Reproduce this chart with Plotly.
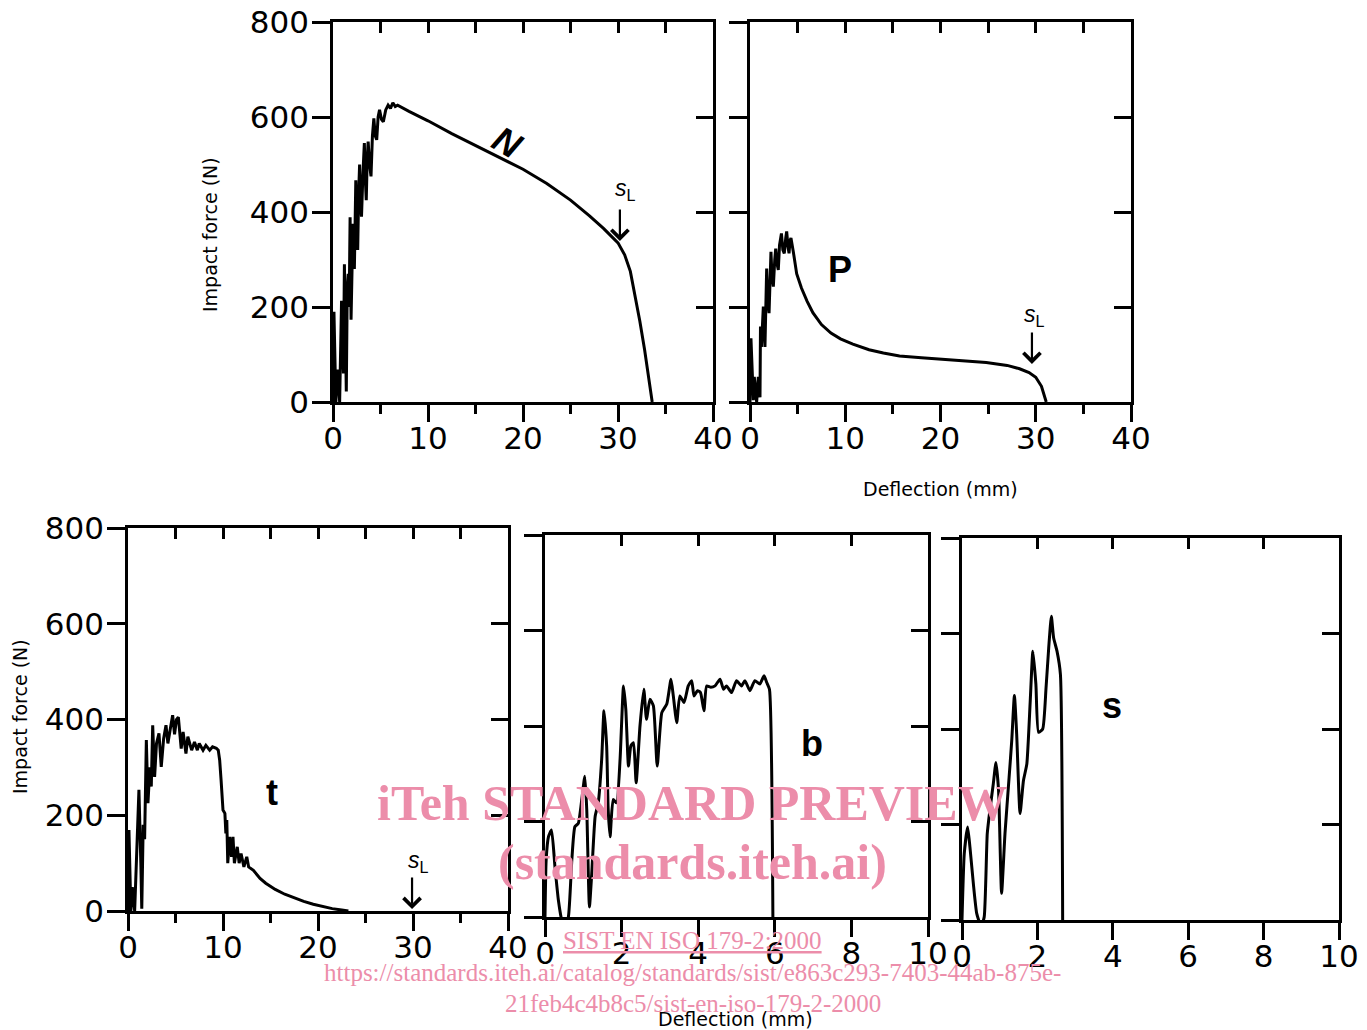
import plotly.graph_objects as go

# ---------------- data ----------------
# Panel N
N_x = [0, 0.1, 0.3, 0.5, 0.7, 0.9, 1.0, 1.1, 1.2, 1.3, 1.4, 1.5, 1.6, 1.7, 1.8, 1.9, 2.0, 2.1, 2.25,
       2.4, 2.5, 2.6, 2.7, 2.8, 2.9, 3.0, 3.15, 3.3, 3.4, 3.5, 3.6, 3.7, 3.85, 4.0, 4.15, 4.3, 4.45,
       4.6, 4.75, 4.9, 5.1, 5.3, 5.55, 5.8, 6.05, 6.3, 6.55, 6.8, 8, 10, 12.5, 15, 17.5, 20, 22.5,
       25, 27, 28.5, 30, 30.7, 31.3, 31.8, 32.3, 32.8, 33.1, 33.35, 33.6]
N_y = [0, 190, 0, 68, 0, 213, 120, 60, 290, 150, 22, 240, 270, 200, 389, 173, 330, 375, 280,
       467, 380, 320, 440, 500, 420, 390, 480, 545, 470, 425, 510, 548, 500, 475, 560, 597, 560,
       552, 600, 615, 595, 590, 615, 625, 618, 630, 622, 625, 612, 592, 565, 540, 515, 490, 460,
       425, 392, 365, 335, 310, 275, 225, 170, 110, 70, 30, 0]

# Panel P
P_x = [0, 0.1, 0.35, 0.45, 0.7, 0.87, 1.05, 1.1, 1.2, 1.3, 1.4, 1.5, 1.57, 1.75, 1.85, 2.0, 2.1,
       2.2, 2.3, 2.45, 2.6, 2.7, 2.85, 2.97, 3.1, 3.3, 3.45, 3.6, 3.75, 3.85, 4.0, 4.1, 4.2, 4.3,
       4.55, 4.9, 5.4, 6.0, 6.6, 7.5, 8.5, 9.5, 10.8, 12.5, 14, 15.7, 18,
       20, 22, 24.8, 27, 28.3, 29.3, 30, 30.6, 31.1]
P_y = [0, 134, 4, 53, 0, 53, 10, 159, 116, 170, 201, 150, 116, 281, 220, 187, 280,
       316, 270, 243, 300, 323, 290, 278, 330, 355, 320, 313, 345, 359, 325, 313, 340, 345,
       316, 270, 240, 212, 188, 163, 145, 133, 122, 110, 103, 97, 93,
       90, 87, 83, 77, 70, 62, 52, 33, 0]

# Panel t
t_x = [0, 0.1, 0.3, 0.45, 0.7, 0.95, 1.15, 1.35, 1.45, 1.6, 1.75, 1.93, 2.1, 2.3, 2.45, 2.6, 2.8,
       3.0, 3.26, 3.5, 3.75, 4.0, 4.2, 4.45, 4.7, 4.9, 5.1, 5.3, 5.45, 5.6, 5.8, 6.1, 6.3, 6.7, 7.0,
       7.3, 7.5, 7.9, 8.2, 8.6, 8.9, 9.3, 9.5, 9.65, 9.8, 10.0, 10.2, 10.3, 10.4, 10.5, 10.7, 10.9,
       11.05, 11.2, 11.5, 11.7, 11.9, 12.2, 12.5, 12.7, 13.2, 13.9, 14.5, 15.5, 16.5, 17.5, 18.5,
       19.5, 20.5, 21.5, 22.5, 23.2]
t_y = [0, 169, 0, 50, 0, 130, 253, 100, 5, 180, 150, 357, 225, 300, 260, 388, 280,
       350, 371, 301, 360, 388, 350, 380, 409, 369, 400, 405, 365, 339, 374, 329, 364, 336, 353,
       336, 350, 336, 346, 336, 343, 340, 336, 315, 273, 211, 204, 162, 190, 100, 155, 113,
       155, 100, 134, 100, 120, 92, 113, 92, 85, 68, 58, 45, 35, 27, 20,
       14, 9, 5, 2, 0]

# Panel b
b_x = [0, 0.03, 0.09, 0.17, 0.26, 0.35, 0.44, 0.52, 0.61, 0.70, 0.78, 0.87, 0.96, 1.04, 1.09, 1.16,
       1.22, 1.31, 1.39, 1.48, 1.54, 1.61, 1.65, 1.70, 1.78, 1.87, 1.96, 2.05, 2.11, 2.18, 2.24, 2.31,
       2.38, 2.48, 2.58, 2.65, 2.74, 2.83, 2.93, 3.05, 3.18, 3.29, 3.35, 3.44, 3.52, 3.63, 3.74, 3.83,
       3.89, 3.98, 4.06, 4.15, 4.22, 4.33, 4.44, 4.57, 4.66, 4.74, 4.87, 5.0, 5.13, 5.22, 5.35, 5.48,
       5.61, 5.72, 5.79, 5.86, 5.95]
b_y = [0, 119, 168, 182, 105, 35, -7, -18, 0, 119, 189, 196, 246, 295, 225, 21,
       91, 211, 239, 330, 432, 358, 225, 168, 246, 239, 330, 484, 435, 316, 358, 365,
       281, 400, 477, 414, 456, 442, 316, 428, 446, 498, 463, 407, 463, 449, 484, 495,
       463, 474, 470, 432, 484, 481, 484, 498, 477, 484, 470, 495, 484, 495, 474, 495,
       488, 505, 491, 477, 0]

# Panel s
s_x = [0, 0.06, 0.15, 0.21, 0.30, 0.39, 0.51, 0.59, 0.67, 0.74, 0.83, 0.90, 0.97, 1.05, 1.14, 1.25,
       1.32, 1.39, 1.45, 1.54, 1.63, 1.72, 1.81, 1.88, 1.96, 2.03, 2.14, 2.23, 2.30, 2.37, 2.43, 2.52,
       2.61, 2.67]
s_y = [0, 139, 195, 153, 77, 14, -14, 7, 181, 230, 285, 330, 271, 56, 181, 299,
       376, 470, 390, 223, 292, 327, 459, 563, 494, 393, 400, 487, 570, 636, 591, 563,
       515, 0]

y_ticks = [0, 200, 400, 600, 800]
x_ticks_wide = [0, 10, 20, 30, 40]
x_ticks_narrow = [0, 2, 4, 6, 8, 10]

series = [
    ("N", N_x, N_y),
    ("P", P_x, P_y),
    ("t", t_x, t_y),
    ("b", b_x, b_y),
    ("s", s_x, s_y),
]

# ---------------- layout ----------------
OFF = 8                      # page body margin
W, H = 1367 - OFF, 1030 - OFF


def px(v):
    return (v - OFF) / W


def py(v):
    return 1 - (v - OFF) / H


# pixel boxes of each panel in the target image: (left, right, top, bottom)
boxes = [(333, 713, 22, 402), (750, 1131, 22, 402), (128, 508, 528, 911),
         (545, 928, 535, 917), (962, 1339, 538, 920)]
xmax = [40, 40, 40, 10, 10]
ylabels = [True, False, True, False, False]

BLACK = "black"
LW = 2.6
TICKFONT = dict(family="DejaVu Sans", size=31, color=BLACK)

fig = go.Figure()
layout = dict(width=W, height=H, margin=dict(l=0, r=0, t=0, b=0, autoexpand=False),
              paper_bgcolor="white", plot_bgcolor="white", showlegend=False)

for i, ((name, xs, ys), box, xm, ylab) in enumerate(zip(series, boxes, xmax, ylabels), start=1):
    l, r, t, b = box
    xd = [px(l), px(r)]
    yd = [py(b), py(t)]
    xk = "xaxis" if i == 1 else f"xaxis{i}"
    yk = "yaxis" if i == 1 else f"yaxis{i}"
    xr = "x" if i == 1 else f"x{i}"
    yr = "y" if i == 1 else f"y{i}"
    j = i + 5
    wide = xm == 40
    common = dict(showgrid=False, zeroline=False, showline=True, linecolor=BLACK, linewidth=LW,
                  tickcolor=BLACK, tickwidth=LW, fixedrange=True, automargin=False)
    xa = dict(common, domain=xd, range=[0, xm], anchor=yr, side="bottom",
              tickmode="array", tickvals=x_ticks_wide if wide else x_ticks_narrow,
              ticks="outside", ticklen=17, tickfont=TICKFONT, ticklabelstandoff=-10,
              ticklabeloverflow="allow")
    if wide:
        xa["minor"] = dict(tickmode="array", tickvals=[5, 15, 25, 35], ticks="outside",
                           ticklen=9, tickwidth=LW, tickcolor=BLACK, showgrid=False)
    layout[xk] = xa
    layout[yk] = dict(common, domain=yd, range=[0, 800], anchor=xr, side="left",
                      tickmode="array", tickvals=y_ticks, ticks="outside", ticklen=18,
                      showticklabels=ylab, tickfont=TICKFONT, ticklabelstandoff=-3,
                      ticklabeloverflow="allow")
    # top & right frame with inward ticks
    layout[f"xaxis{j}"] = dict(common, range=[0, xm], overlaying=xr, anchor=yr, side="top",
                               tickmode="array",
                               tickvals=[5, 10, 15, 20, 25, 30, 35] if wide else [2, 4, 6, 8],
                               ticks="inside", ticklen=11, showticklabels=False)
    layout[f"yaxis{j}"] = dict(common, range=[0, 800], overlaying=yr, anchor=xr, side="right",
                               tickmode="array", tickvals=[200, 400, 600],
                               ticks="inside", ticklen=17, showticklabels=False)
    fig.add_trace(go.Scatter(x=xs, y=ys, xaxis=xr, yaxis=yr, mode="lines",
                             line=dict(color=BLACK, width=3,
                                       shape="spline" if name in ("b", "s") else "linear",
                                       smoothing=0.5),
                             hoverinfo="skip"))
    fig.add_trace(go.Scatter(x=[None], y=[None], xaxis=f"x{j}", yaxis=f"y{j}",
                             mode="lines", hoverinfo="skip"))

fig.update_layout(**layout)

ann = []
C = dict(xanchor="center", yanchor="middle", showarrow=False)
LBL = dict(family="Liberation Sans", size=36, color=BLACK)
# curve labels
ann.append(dict(C, x=18.4, y=547, xref="x", yref="y", text="<b><i>N</i></b>",
                textangle=30, font=LBL))
ann.append(dict(C, x=9.45, y=278, xref="x2", yref="y2", text="<b>P</b>", font=LBL))
ann.append(dict(C, x=15.2, y=248, xref="x3", yref="y3", text="<b>t</b>", font=LBL))
ann.append(dict(C, x=6.97, y=364, xref="x4", yref="y4", text="<b>b</b>", font=LBL))
ann.append(dict(C, x=3.99, y=449, xref="x5", yref="y5", text="<b>s</b>", font=LBL))

# s_L markers: (xref, yref, text x, text y, arrow tip x, arrow tip y)
SL = dict(family="Liberation Sans", size=23, color=BLACK)
for xr, yr, tx, ty, ax_, ay_ in [("x", "y", 30.8, 448, 30.2, 339),
                                 ("x2", "y2", 29.9, 183, 29.6, 80),
                                 ("x3", "y3", 30.6, 104, 29.9, 4)]:
    ann.append(dict(C, x=tx, y=ty, xref=xr, yref=yr, text="<i>s</i><sub>L</sub>", font=SL))
    ann.append(dict(x=ax_, y=ay_, xref=xr, yref=yr, text="", showarrow=True, ax=0, ay=-33,
                    arrowhead=4, arrowsize=1.5, arrowwidth=2.2, arrowcolor=BLACK))

# axis titles
TT = dict(family="DejaVu Sans", size=19, color=BLACK)
ann.append(dict(C, x=px(210), y=py(235), xref="paper", yref="paper", text="Impact force (N)",
                textangle=-90, font=TT))
ann.append(dict(C, x=px(20), y=py(717), xref="paper", yref="paper", text="Impact force (N)",
                textangle=-90, font=TT))
ann.append(dict(C, x=px(940), y=py(489), xref="paper", yref="paper", text="Deflection (mm)",
                font=TT))
ann.append(dict(C, x=px(735), y=py(1019), xref="paper", yref="paper", text="Deflection (mm)",
                font=TT))

# watermark
PINK = "rgb(236,141,170)"
WMB = dict(family="Liberation Serif", size=50, color=PINK)
WMS = dict(family="Liberation Serif", size=25, color=PINK)
for txt, cy, f in [("<b>iTeh STANDARD PREVIEW</b>", 803, WMB),
                   ("<b>(standards.iteh.ai)</b>", 862, WMB),
                   ("<u>SIST EN ISO 179-2:2000</u>", 940, WMS),
                   ("https://standards.iteh.ai/catalog/standards/sist/e863c293-7403-44ab-875e-", 972, WMS),
                   ("21feb4c4b8c5/sist-en-iso-179-2-2000", 1003, WMS)]:
    ann.append(dict(C, x=px(693), y=py(cy), xref="paper", yref="paper", text=txt, font=f))

fig.update_layout(annotations=ann)
fig.write_html("out.html")
